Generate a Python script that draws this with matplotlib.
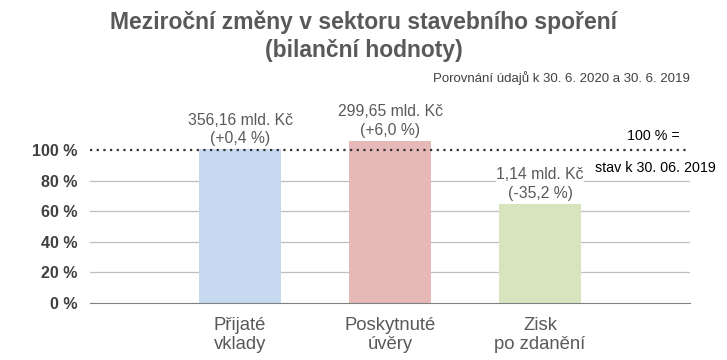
import matplotlib.pyplot as plt
import numpy as np

plt.rcParams['font.family'] = ['Liberation Sans', 'DejaVu Sans']

categories = ['Přijaté\nvklady', 'Poskytnuté\núvěry', 'Zisk\npo zdanění']
values = [100.4, 106.0, 64.8]
value_labels = ['356,16 mld. Kč\n(+0,4 %)', '299,65 mld. Kč\n(+6,0 %)', '1,14 mld. Kč\n(-35,2 %)']
colors = ['#C6D9F1', '#E6B9B8', '#D7E4BD']
yticks = [0, 20, 40, 60, 80, 100]

txt = '#595959'

fig = plt.figure(figsize=(7.27, 3.6), dpi=100)
ax = fig.add_axes([90 / 727, 1 - 303 / 360, 600 / 727, 130 * 1.53 / 360])

x = np.arange(1, len(categories) + 1)
ax.bar(x, values, width=0.55, color=colors, zorder=2)

# gridlines (without 100 %, that one is dotted)
for t in yticks[1:-1]:
    ax.axhline(t, color='#BFBFBF', lw=0.9, zorder=1)
ax.axhline(100, color='#333333', lw=1.6, ls=(0, (1, 2)), zorder=3)

for xi, v, lab in zip(x, values, value_labels):
    ax.text(xi, v + 2.0, lab, ha='center', va='bottom', fontsize=11.3, color=txt,
            linespacing=1.3, zorder=4,
            bbox=dict(facecolor='white', edgecolor='none', pad=0.5))

ax.text(3.93, 109, '100 % =', ha='right', va='center', fontsize=10.3, color='black')
ax.text(4.17, 88, 'stav k 30. 06. 2019', ha='right', va='center', fontsize=10.3, color='black',
        bbox=dict(facecolor='white', edgecolor='none', pad=0.5), clip_on=False)

ax.set_xlim(0, 4)
ax.set_ylim(0, 130)
ax.set_yticks(yticks)
ax.set_yticklabels([f'{t} %' for t in yticks], fontsize=11.5, fontweight='bold', color='#404040')
ax.set_xticks(x)
ax.set_xticklabels(categories, fontsize=13.3, color=txt, linespacing=1.2)
ax.tick_params(length=0)
ax.tick_params(axis='y', pad=9)
ax.tick_params(axis='x', pad=10)
for s in ['top', 'right', 'left']:
    ax.spines[s].set_visible(False)
ax.spines['bottom'].set_color('#808080')

fig.text(0.5, 1 - 22 / 360, 'Meziroční změny v sektoru stavebního spoření', ha='center', va='center',
         fontsize=16.5, fontweight='bold', color=txt)
fig.text(0.5, 1 - 51 / 360, '(bilanční hodnoty)', ha='center', va='center',
         fontsize=16.5, fontweight='bold', color=txt)
fig.text(690 / 727, 1 - 78 / 360, 'Porovnání údajů k 30. 6. 2020 a 30. 6. 2019', ha='right', va='center',
         fontsize=9.5, color='#404040')

fig.savefig('out.png', dpi=100)
